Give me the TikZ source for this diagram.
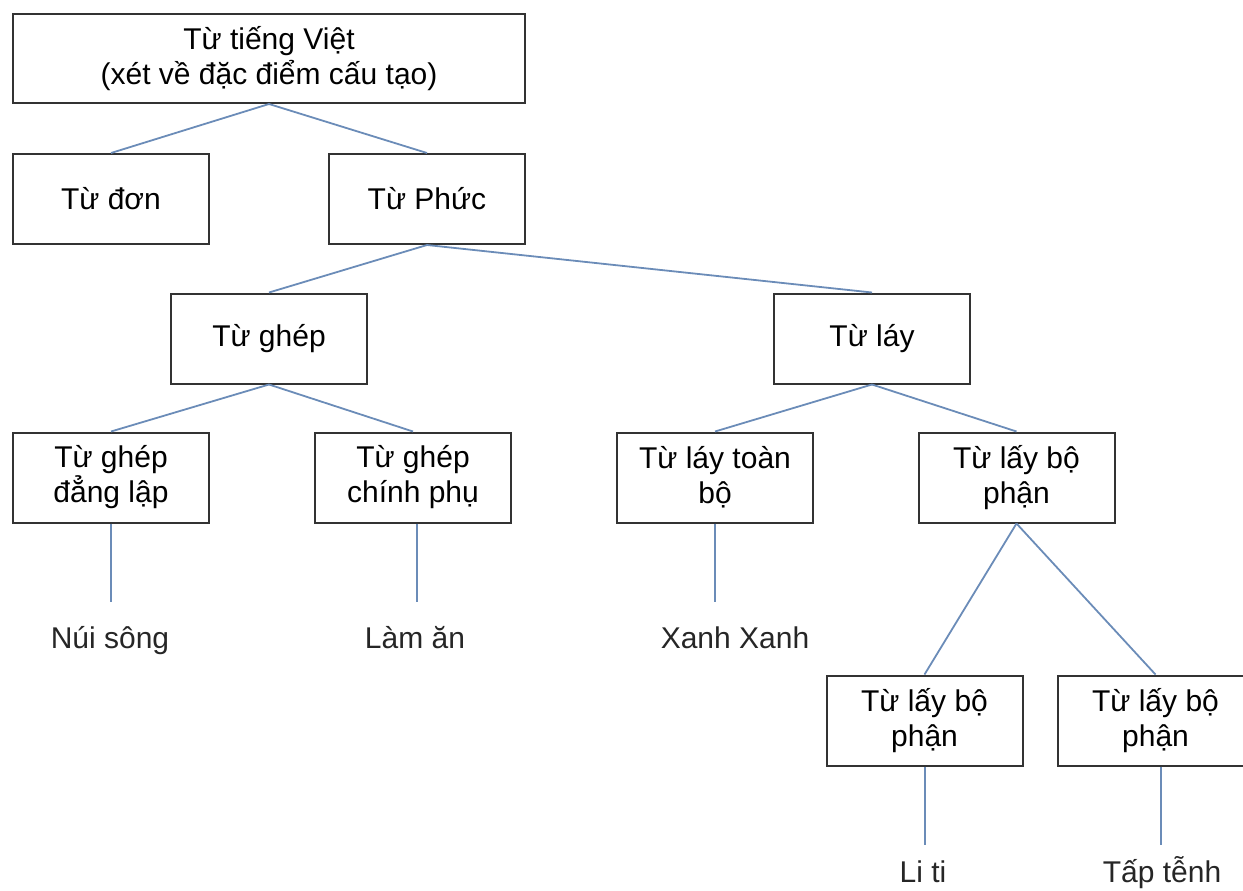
\documentclass[tikz,border=0pt]{standalone}
\usepackage{fontspec}
\setmainfont{Liberation Sans}
\usepackage{tikz}
\usetikzlibrary{positioning}
\definecolor{linkblue}{rgb}{0.42, 0.55, 0.72}
\definecolor{boxgray}{rgb}{0.2, 0.2, 0.2}

\begin{document}
\begin{tikzpicture}[x=0.5pt, y=-0.5pt,
		box/.style={draw=boxgray, line width=1pt, rectangle, align=center, inner sep=0pt,
			minimum width=98pt, minimum height=45pt, font=\fontsize{15}{17.5}\selectfont},
		wideBox/.style={box, minimum width=256pt},
		link/.style={draw=linkblue, line width=0.9pt},
		leaf/.style={inner sep=0pt, anchor=base, text=black!85, font=\fontsize{15}{17.5}\selectfont}]
		
		\useasboundingbox (0,0) rectangle (1243,890);
		\clip (0,0) rectangle (1243,890);
		
		\node [wideBox, minimum height=44.5pt] (viet) at (269, 58.5) {Từ tiếng Việt\\(xét về đặc điểm cấu tạo)};
		\node [box] (don) at (111, 199) {Từ đơn};
		\node [box] (phuc) at (427, 199) {Từ Phức};
		\node [box] (ghep) at (269, 338.5) {Từ ghép};
		\node [box] (lay) at (872, 338.5) {Từ láy};
		\node [box] (ghepDL) at (111, 477.5) {Từ ghép\\đẳng lập};
		\node [box] (ghepCP) at (413, 477.5) {Từ ghép\\chính phụ};
		\node [box] (layTB) at (715, 477.5) {Từ láy toàn\\bộ};
		\node [box] (layBP) at (1016.5, 477.5) {Từ lấy bộ\\phận};
		\node [box] (layBP1) at (924.5, 720.5) {Từ lấy bộ\\phận};
		\node [box] (layBP2) at (1155.5, 720.5) {Từ lấy bộ\\phận};
		
		\node [leaf] (nuiSong) at (110, 648) {Núi sông};
		\node [leaf] (lamAn) at (415, 648) {Làm ăn};
		\node [leaf] (xanhXanh) at (735, 648) {Xanh Xanh};
		\node [leaf] (liTi) at (923, 882) {Li ti};
		\node [leaf] (tapTenh) at (1162, 882) {Tấp tễnh};
		
		\coordinate (endDL) at (111, 602);
		\coordinate (endCP) at (417, 602);
		\coordinate (endTB) at (715, 602);
		\coordinate (endBP1) at (925, 845);
		\coordinate (endBP2) at (1161, 845);
		
		\draw [link] (viet.south) -- (don.north);
		\draw [link] (viet.south) -- (phuc.north);
		\draw [link] (phuc.south) -- (ghep.north);
		\draw [link] (phuc.south) -- (lay.north);
		\draw [link] (ghep.south) -- (ghepDL.north);
		\draw [link] (ghep.south) -- (ghepCP.north);
		\draw [link] (lay.south) -- (layTB.north);
		\draw [link] (lay.south) -- (layBP.north);
		\draw [link] (layBP.south) -- (layBP1.north);
		\draw [link] (layBP.south) -- (layBP2.north);
		
		\draw [link] (ghepDL.south) -- (endDL);
		\draw [link] (ghepCP.south -| endCP) -- (endCP);
		\draw [link] (layTB.south) -- (endTB);
		\draw [link] (layBP1.south -| endBP1) -- (endBP1);
		\draw [link] (layBP2.south -| endBP2) -- (endBP2);
	\end{tikzpicture}
\end{document}
